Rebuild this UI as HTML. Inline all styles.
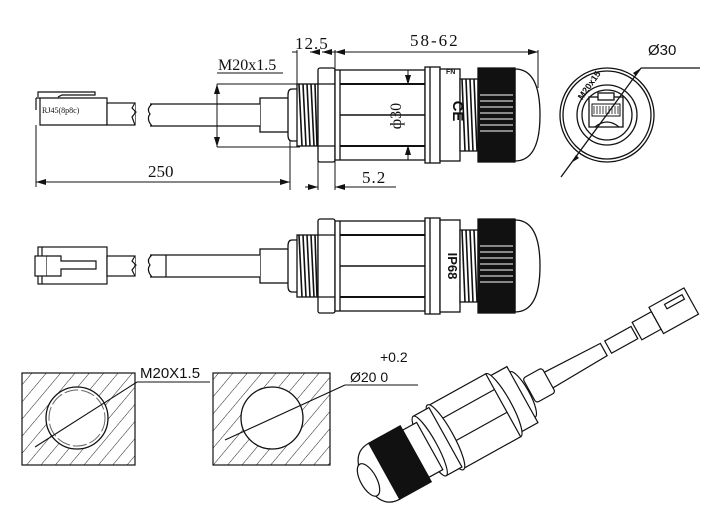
<!DOCTYPE html>
<html><head><meta charset="utf-8"><style>
html,body{margin:0;padding:0;background:#fff}
svg{display:block}
text{font-family:"Liberation Serif",serif;fill:#111}
.s{font-family:"Liberation Sans",sans-serif}
</style></head><body>
<svg width="716" height="525" viewBox="0 0 716 525" xmlns="http://www.w3.org/2000/svg">
<defs>
<pattern id="h" patternUnits="userSpaceOnUse" width="11" height="11" patternTransform="rotate(40)">
<line x1="0" y1="0" x2="0" y2="11" stroke="#222" stroke-width="1"/>
</pattern>
<marker id="a" viewBox="0 0 10 6" refX="10" refY="3" markerWidth="10" markerHeight="6" orient="auto-start-reverse" markerUnits="userSpaceOnUse"><path d="M0,0 L10,3 L0,6z" fill="#111"/></marker>
<g id="conn" fill="#fff" stroke="#111" stroke-width="1.3">
<rect x="260" y="-17" width="32" height="34"/>
<path d="M298,-26 L292,-26 Q288,-26 288,-20 L288,20 Q288,26 292,26 L298,26z"/>
<rect x="297" y="-31" width="21" height="62"/>
<g stroke-width="1.6"><path d="M299,-31 L302,31 M303,-31 L306,31 M307,-31 L310,31 M311,-31 L314,31 M315,-31 L317,31"/></g>
<rect x="318" y="-47" width="17" height="94" rx="2"/>
<line x1="318" y1="-31" x2="335" y2="-31"/><line x1="318" y1="31" x2="335" y2="31"/>
<rect x="335" y="-45" width="90" height="90"/>
<line x1="340" y1="-45" x2="340" y2="45"/>
<line x1="340" y1="-31" x2="425" y2="-31" stroke-width="2"/>
<line x1="340" y1="0" x2="425" y2="0" stroke-width="1.6"/>
<line x1="340" y1="31" x2="425" y2="31" stroke-width="2"/>
<rect x="425" y="-48" width="15" height="96"/>
<line x1="430" y1="-48" x2="430" y2="48"/>
<rect x="440" y="-46" width="20" height="92"/>
<rect x="460" y="-36" width="18" height="72"/>
<g stroke-width="1.6"><path d="M462,-36 L465,36 M466,-36 L469,36 M470,-36 L473,36 M474,-36 L477,36"/></g>
<path d="M515,-46 Q540,-46 540,0 Q540,46 515,46z"/>
<rect x="478" y="-47" width="37" height="94" fill="#111"/>
<g stroke="#fff" stroke-width="1"><path d="M480,-20 H513 M480,-14 H513 M480,-8 H513 M480,-2 H513 M480,4 H513 M480,10 H513 M480,16 H513"/></g>
</g>
</defs>

<!-- TOP VIEW -->
<use href="#conn" transform="translate(0,115)"/>
<text x="457" y="107" font-size="15" class="s" font-weight="bold" transform="rotate(90 453 107)" text-anchor="middle">CE</text>
<text x="446" y="74" font-size="7" class="s" font-weight="bold">FN</text>
<text x="401" y="116" font-size="16" transform="rotate(-90 401 116)" text-anchor="middle">ф30</text>
<line x1="408" y1="70" x2="408" y2="85" stroke="#111" marker-end="url(#a)"/>
<line x1="408" y1="160" x2="408" y2="145" stroke="#111" marker-end="url(#a)"/>
<!-- plug top -->
<g fill="#fff" stroke="#111" stroke-width="1.2">
<path d="M36,98 L36,110 M40,98 L40,125 L107,125 L107,98 L36,98"/>
<path d="M38,97 L38,92 L95,92 L95,95 L62,95 L58,97"/>
<rect x="107" y="103" width="28" height="22"/>
<rect x="150" y="104" width="110" height="22" stroke="none"/>
<path d="M150,104 L260,104 M150,126 L260,126 M135,103 l-3,5 l4,4 l-4,5 l3,8 M152,104 q-6,5 -2,10 q-4,5 2,12"/>
</g>
<text x="42" y="113" font-size="8">RJ45(8p8c)</text>
<!-- dims top -->
<g stroke="#111" stroke-width="1" fill="none">
<line x1="36" y1="125" x2="36" y2="187"/>
<line x1="290" y1="140" x2="290" y2="190"/>
<line x1="36" y1="182" x2="290" y2="182" marker-start="url(#a)" marker-end="url(#a)"/>
<line x1="217" y1="84" x2="300" y2="84"/>
<line x1="217" y1="147" x2="300" y2="147"/>
<line x1="217" y1="84" x2="217" y2="147" marker-start="url(#a)" marker-end="url(#a)"/>
<line x1="217" y1="73" x2="283" y2="73"/>
<line x1="297" y1="50" x2="297" y2="84"/>
<line x1="335" y1="50" x2="335" y2="70"/>
<line x1="538" y1="50" x2="538" y2="88"/>
<line x1="292" y1="52" x2="297" y2="52"/>
<line x1="318" y1="52" x2="310" y2="52" marker-end="url(#a)"/>
<line x1="322" y1="52" x2="335" y2="52" marker-start="url(#a)"/>
<line x1="335" y1="52" x2="538" y2="52" marker-start="url(#a)" marker-end="url(#a)"/>
<line x1="318" y1="160" x2="318" y2="190"/>
<line x1="335" y1="160" x2="335" y2="190"/>
<line x1="305" y1="187" x2="318" y2="187" marker-end="url(#a)"/>
<line x1="335" y1="187" x2="396" y2="187" marker-start="url(#a)"/>
</g>
<text x="295" y="49" font-size="17" letter-spacing="1">12.5</text>
<text x="410" y="46" font-size="17" letter-spacing="2">58-62</text>
<text x="218" y="70" font-size="16">M20x1.5</text>
<text x="148" y="177" font-size="17">250</text>
<text x="362" y="183" font-size="17" letter-spacing="1">5.2</text>

<!-- FRONT VIEW -->
<g fill="none" stroke="#111" stroke-width="1.3">
<circle cx="607" cy="115" r="47"/>
<circle cx="607" cy="115" r="44"/>
<circle cx="607" cy="115" r="30"/>
<circle cx="607" cy="115" r="25"/>
<rect x="589" y="97" width="34" height="30"/>
<rect x="598" y="93" width="16" height="7" fill="#fff"/>
<path d="M592,104 h28 v12 h-28z" stroke-width="1"/>
<path d="M594,106 v8 M597,106 v8 M600,106 v8 M603,106 v8 M606,106 v8 M609,106 v8 M612,106 v8 M615,106 v8 M618,106 v8" stroke-width="0.8"/>
<path d="M595,127 q12,-10 24,0" />
<line x1="561" y1="177" x2="641" y2="68"/>
<line x1="641" y1="68" x2="700" y2="68"/>
</g>
<path d="M641,68 l-8,5 l3,3z" fill="#111"/>
<path d="M571,163 l8,-5 l-3,-3z" fill="#111"/>
<text x="648" y="55" font-size="15" class="s">Ø30</text>
<text x="577" y="100" font-size="9" class="s" font-weight="bold" transform="rotate(-55 580 95)">M20x15</text>

<!-- SECOND VIEW -->
<use href="#conn" transform="translate(0,266)"/>
<text x="452" y="270" font-size="13" class="s" font-weight="bold" transform="rotate(90 452 266)" text-anchor="middle">IP68</text>
<g fill="#fff" stroke="#111" stroke-width="1.2">
<rect x="38" y="247" width="69" height="37"/>
<line x1="42" y1="247" x2="42" y2="284"/>
<rect x="35" y="256" width="12" height="20"/>
<path d="M47,256 h14 v5 h35 v8 h-35 v7 h-14"/>
<rect x="107" y="256" width="28" height="20"/>
<rect x="150" y="255" width="110" height="22" stroke="none"/>
<path d="M150,255 L260,255 M150,277 L260,277 M166,255 V277 M135,256 l-3,5 l4,4 l-4,5 l3,6 M152,255 q-6,5 -2,10 q-4,5 2,12"/>
</g>

<!-- HOLE SECTIONS -->
<rect x="22" y="373" width="113" height="92" fill="url(#h)" stroke="#111" stroke-width="1.2"/>
<circle cx="77" cy="418" r="31" fill="#fff" stroke="#111" stroke-width="1.3"/>
<circle cx="77" cy="418" r="28" fill="none" stroke="#666" stroke-width="1" stroke-dasharray="14 3"/>
<rect x="213" y="373" width="117" height="92" fill="url(#h)" stroke="#111" stroke-width="1.2"/>
<circle cx="272" cy="418" r="31" fill="#fff" stroke="#111" stroke-width="1.3"/>
<g stroke="#111" stroke-width="1.1">
<line x1="35" y1="447" x2="137" y2="382"/>
<line x1="137" y1="382" x2="210" y2="382"/>
<line x1="225" y1="440" x2="345" y2="385"/>
<line x1="345" y1="385" x2="418" y2="385"/>
</g>
<text x="140" y="378" font-size="15" class="s">M20X1.5</text>
<text x="380" y="362" font-size="14" class="s">+0.2</text>
<text x="350" y="382" font-size="14" class="s">Ø20 0</text>

<!-- ISOMETRIC -->
<g transform="translate(372,478) rotate(-29)" fill="#fff" stroke="#111" stroke-width="1.2">
<path d="M200,-9 L265,-7 L265,7 L200,9z"/>
<path d="M270,-7 L300,-7 L300,7 L270,7z"/>
<path d="M303,-10 L325,-10 L325,10 L303,10z"/>
<path d="M325,-15 L365,-15 L365,15 L325,15z"/>
<rect x="340" y="-10" width="20" height="5" fill="none"/>
<rect x="180" y="-14" width="22" height="28" rx="3"/>
<ellipse cx="172" cy="0" rx="7" ry="26"/>
<rect x="150" y="-32" width="22" height="64"/>
<ellipse cx="150" cy="0" rx="8" ry="36"/>
<rect x="84" y="-36" width="66" height="72"/>
<line x1="90" y1="-18" x2="150" y2="-18"/><line x1="90" y1="8" x2="150" y2="8"/>
<ellipse cx="84" cy="0" rx="8" ry="37"/>
<rect x="66" y="-34" width="18" height="68"/>
<ellipse cx="66" cy="0" rx="7" ry="34"/>
<rect x="50" y="-27" width="16" height="54"/>
<rect x="14" y="-32" width="36" height="64" fill="#111"/>
<path d="M14,-32 Q-8,-32 -8,0 Q-8,32 14,32z"/>
<ellipse cx="-4" cy="0" rx="8" ry="18"/>
</g>
</svg>
</body></html>
